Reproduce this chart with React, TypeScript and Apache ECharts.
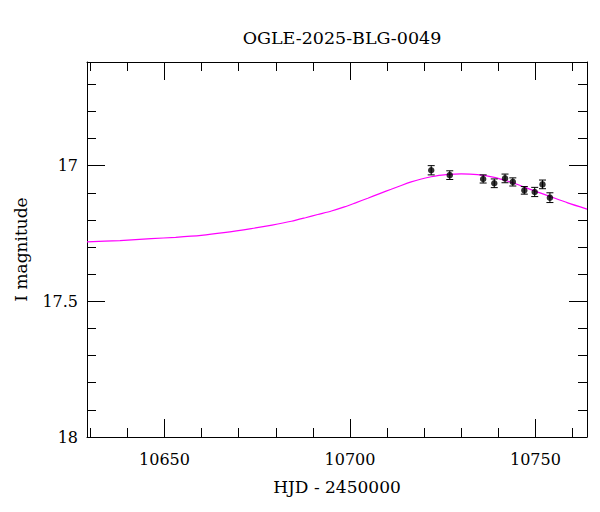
import React, { useEffect, useRef } from "react";
import * as echarts from "echarts";

const titleText = "OGLE-2025-BLG-0049";
const xName = "HJD - 2450000";
const yName = "I magnitude";

const xMin = 10629.1;
const xMax = 10763.9;
const yMin = 16.618;
const yMax = 18;

const xMajorTicks = [10650, 10700, 10750];
const xMinorTicks = [10630, 10640, 10660, 10670, 10680, 10690, 10710, 10720, 10730, 10740, 10760];
const yMajorTicks = [17, 17.5, 18];
const yMinorTicks = [16.7, 16.8, 16.9, 17.1, 17.2, 17.3, 17.4, 17.6, 17.7, 17.8, 17.9];

const obsHJD = [10721.9, 10726.9, 10735.9, 10738.9, 10741.8, 10743.9, 10747.0, 10749.8, 10751.9, 10753.9];
const obsMag = [17.017, 17.035, 17.049, 17.065, 17.047, 17.060, 17.091, 17.097, 17.069, 17.118];
const obsErr = [0.017, 0.016, 0.015, 0.016, 0.016, 0.015, 0.014, 0.017, 0.016, 0.018];

const modelHJD = [
  10629.1, 10638.0, 10646.4, 10653.0, 10659.9, 10666.0, 10673.4, 10679.0, 10684.2, 10688.0,
  10691.3, 10695.0, 10698.5, 10701.5, 10704.8, 10708.0, 10711.1, 10714.0, 10716.5, 10719.0,
  10721.9, 10724.0, 10726.4, 10730.0, 10734.4, 10738.9, 10741.5, 10744.3, 10747.0, 10749.7,
  10752.0, 10754.2, 10758.7, 10763.9,
];
const modelMag = [
  17.281, 17.276, 17.269, 17.264, 17.257, 17.247, 17.232, 17.219, 17.205, 17.192,
  17.180, 17.167, 17.152, 17.137, 17.120, 17.103, 17.087, 17.072, 17.060, 17.050,
  17.041, 17.036, 17.032, 17.030, 17.033, 17.043, 17.053, 17.065, 17.079, 17.093,
  17.104, 17.115, 17.137, 17.160,
];

const FONT = "DejaVu Serif";

export default function App() {
  const ref = useRef<HTMLDivElement>(null);
  useEffect(() => {
    if (!ref.current) return;
    const chart = echarts.init(ref.current, null, { renderer: "svg" });
    const lineStyle = { color: "#000", width: 1 };
    const mkX = (pos: "bottom" | "top", ticks: number[], len: number, labels: boolean, line: boolean) => ({
      type: "value",
      position: pos,
      min: xMin,
      max: xMax,
      splitLine: { show: false },
      axisLine: { show: line, onZero: false, lineStyle },
      axisTick: { show: true, inside: true, length: len, customValues: ticks, lineStyle },
      axisLabel: labels
        ? { show: true, customValues: ticks, formatter: (v: number) => String(v), color: "#000", fontFamily: FONT, fontSize: 16, margin: 14 }
        : { show: false },
    });
    const mkY = (pos: "left" | "right", ticks: number[], len: number, labels: boolean, line: boolean) => ({
      type: "value",
      position: pos,
      inverse: true,
      min: yMin,
      max: yMax,
      splitLine: { show: false },
      axisLine: { show: line, onZero: false, lineStyle },
      axisTick: { show: true, inside: true, length: len, customValues: ticks, lineStyle },
      axisLabel: labels
        ? { show: true, customValues: ticks, formatter: (v: number) => String(v), color: "#000", fontFamily: FONT, fontSize: 16, margin: 9 }
        : { show: false },
    });
    const xAxes: any[] = [
      { ...mkX("bottom", xMajorTicks, 18, true, true), name: xName, nameLocation: "middle", nameGap: 41, nameTextStyle: { color: "#000", fontFamily: FONT, fontSize: 17 } },
      mkX("bottom", xMinorTicks, 9, false, false),
      mkX("top", xMajorTicks, 18, false, true),
      mkX("top", xMinorTicks, 9, false, false),
    ];
    const yAxes: any[] = [
      { ...mkY("left", yMajorTicks, 18, true, true), name: yName, nameLocation: "middle", nameGap: 58, nameTextStyle: { color: "#000", fontFamily: FONT, fontSize: 17 } },
      mkY("left", yMinorTicks, 9, false, false),
      mkY("right", yMajorTicks, 18, false, true),
      mkY("right", yMinorTicks, 9, false, false),
    ];
    const obs = obsHJD.map((x, i) => [x, obsMag[i], obsErr[i]]);
    const model = modelHJD.map((x, i) => [x, modelMag[i]]);
    chart.setOption({
      animation: false,
      backgroundColor: "#fff",
      title: {
        text: titleText,
        left: 337,
        textAlign: "center",
        top: 24,
        textStyle: { color: "#000", fontFamily: FONT, fontSize: 17.5, fontWeight: "normal" },
      },
      grid: { left: 87, right: 13, top: 62, bottom: 75 },
      xAxis: xAxes,
      yAxis: yAxes,
      series: [
        {
          type: "line",
          data: model,
          smooth: 0.25,
          showSymbol: false,
          lineStyle: { color: "#ff00ff", width: 1.2 },
          clip: true,
          z: 2,
        },
        {
          type: "custom",
          data: obs,
          z: 3,
          renderItem: (params: any, api: any) => {
            const x = api.value(0);
            const y = api.value(1);
            const e = api.value(2);
            const top = api.coord([x, y - e]);
            const bot = api.coord([x, y + e]);
            const c = 3.5;
            const st = { stroke: "#000", lineWidth: 1 };
            return {
              type: "group",
              children: [
                { type: "line", shape: { x1: top[0], y1: top[1], x2: bot[0], y2: bot[1] }, style: st },
                { type: "line", shape: { x1: top[0] - c, y1: top[1], x2: top[0] + c, y2: top[1] }, style: st },
                { type: "line", shape: { x1: bot[0] - c, y1: bot[1], x2: bot[0] + c, y2: bot[1] }, style: st },
              ],
            };
          },
        },
        {
          type: "scatter",
          data: obs.map((d) => [d[0], d[1]]),
          symbol: "circle",
          symbolSize: 6.5,
          itemStyle: { color: "#000" },
          z: 4,
        },
      ],
    });
    return () => chart.dispose();
  }, []);
  return <div ref={ref} style={{ width: 600, height: 512, margin: -8 }} />;
}
